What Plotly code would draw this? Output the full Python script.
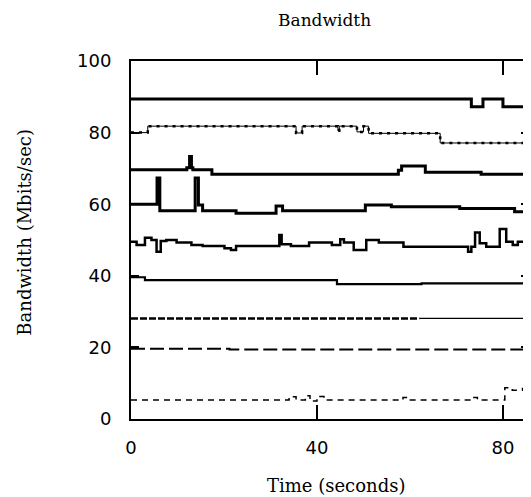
import plotly.graph_objects as go

# ---- data (step series, value holds until next breakpoint) ----
x1 = [0, 73.2, 75.7, 80.0, 84.7, 85.6]
y1 = [89.4, 87.2, 89.4, 87.2, 89.4, 89.4]

x2 = [0, 3.6, 35.5, 36.8, 44.5, 44.8, 48.6, 50.0, 51.1, 66.5, 85.0, 85.6]
y2 = [80.0, 81.8, 79.9, 81.8, 80.5, 81.8, 80.2, 81.8, 79.8, 77.1, 80.0, 80.0]

x3 = [0, 12.0, 12.6, 13.0, 13.3, 17.4, 57.5, 58.2, 63.3, 75.3, 85.6]
y3 = [69.6, 70.2, 73.3, 70.2, 69.6, 68.4, 69.5, 70.7, 68.9, 68.4, 68.4]

x4 = [0, 5.6, 6.2, 13.8, 14.5, 15.4, 22.6, 31.2, 32.6, 50.4, 56.0, 70.7, 82.5, 85.6]
y4 = [60.0, 67.3, 58.2, 67.3, 59.8, 58.2, 57.5, 59.5, 58.2, 59.8, 59.3, 58.8, 57.9, 57.9]

x5 = [0, 1.2, 3.0, 4.4, 5.5, 6.4, 7.6, 9.8, 13.0, 15.4, 20.1, 21.5, 22.6, 31.9, 32.4,
      34.4, 38.3, 43.2, 45.0, 45.8, 47.9, 50.6, 53.3, 58.6, 72.5, 73.2, 74.0, 75.0,
      76.4, 79.3, 80.7, 82.1, 83.2, 85.6]
y5 = [49.5, 48.6, 50.6, 50.0, 46.7, 49.7, 50.0, 49.3, 48.6, 48.3, 47.7, 47.2, 48.3, 51.4, 48.8,
      48.3, 49.3, 48.6, 50.2, 49.3, 47.2, 50.0, 49.3, 48.1, 46.7, 48.1, 52.1, 49.1,
      48.1, 53.1, 49.5, 48.6, 49.5, 49.5]

x6 = [0, 3.0, 44.3, 62.5, 85.0, 85.6]
y6 = [39.6, 38.8, 37.7, 37.9, 40.0, 40.0]

x7 = [0, 62.0, 85.6]
y7 = [28.1, 28.1, 28.1]

x8 = [0, 21.2, 85.0, 85.6]
y8 = [19.6, 19.4, 19.6, 19.6]

x9 = [0, 34.0, 35.5, 37.5, 38.5, 40.0, 41.5, 58.5, 59.5, 73.5, 74.5, 80.4, 82.0, 84.2, 85.6]
y9 = [5.3, 6.2, 5.3, 6.5, 5.0, 6.3, 5.3, 6.0, 5.3, 6.0, 5.3, 8.7, 8.0, 8.5, 8.5]

x_ticks = [0, 40, 80]
y_ticks = [0, 20, 40, 60, 80, 100]

fig = go.Figure()

def add(x, y, width, dash="solid"):
    fig.add_trace(go.Scatter(x=x, y=y, mode="lines", line_shape="hv",
                             line=dict(color="black", width=width, dash=dash),
                             hoverinfo="skip"))

add(x1, y1, 3)
add(x2, y2, 1)
add(x2, y2, 2.5, "3px,5px")
add(x3, y3, 3)
add(x4, y4, 3)
add(x5, y5, 2.5)
add(x6, y6, 2.2)
add(x7[:2], y7[:2], 2.5, "7px,2px")
add(x7[1:], y7[1:], 1.3)
add(x8, y8, 2, "14px,5px")
add(x9, y9, 1.5, "6px,5px")

ax_common = dict(showline=True, linecolor="black", linewidth=2, mirror="ticks",
                 ticks="inside", tickcolor="black", tickwidth=1.5,
                 showgrid=False, zeroline=False,
                 tickfont=dict(family="DejaVu Sans", size=18, color="black"))

fig.update_layout(
    width=523, height=489,
    margin=dict(l=123, r=0, t=53, b=78),
    paper_bgcolor="white", plot_bgcolor="white",
    showlegend=False,
    xaxis=dict(range=[0, 85.6], tickvals=x_ticks, ticklen=14, ticklabelstandoff=11, **ax_common),
    yaxis=dict(range=[0, 100], tickvals=y_ticks, ticklen=8, ticklabelstandoff=14, **ax_common),
    annotations=[
        dict(text="Bandwidth", xref="paper", yref="paper", x=0.485, y=1.1145,
             xanchor="center", yanchor="middle", showarrow=False,
             font=dict(family="DejaVu Serif", size=17, color="black")),
        dict(text="Time (seconds)", xref="paper", yref="paper", x=0.515, y=-0.187,
             xanchor="center", yanchor="middle", showarrow=False,
             font=dict(family="DejaVu Serif", size=18, color="black")),
        dict(text="Bandwidth (Mbits/sec)", xref="paper", yref="paper", x=-0.2675, y=0.522,
             xanchor="center", yanchor="middle", showarrow=False, textangle=-90,
             font=dict(family="DejaVu Serif", size=18, color="black")),
    ],
)

fig.write_html("out.html")
